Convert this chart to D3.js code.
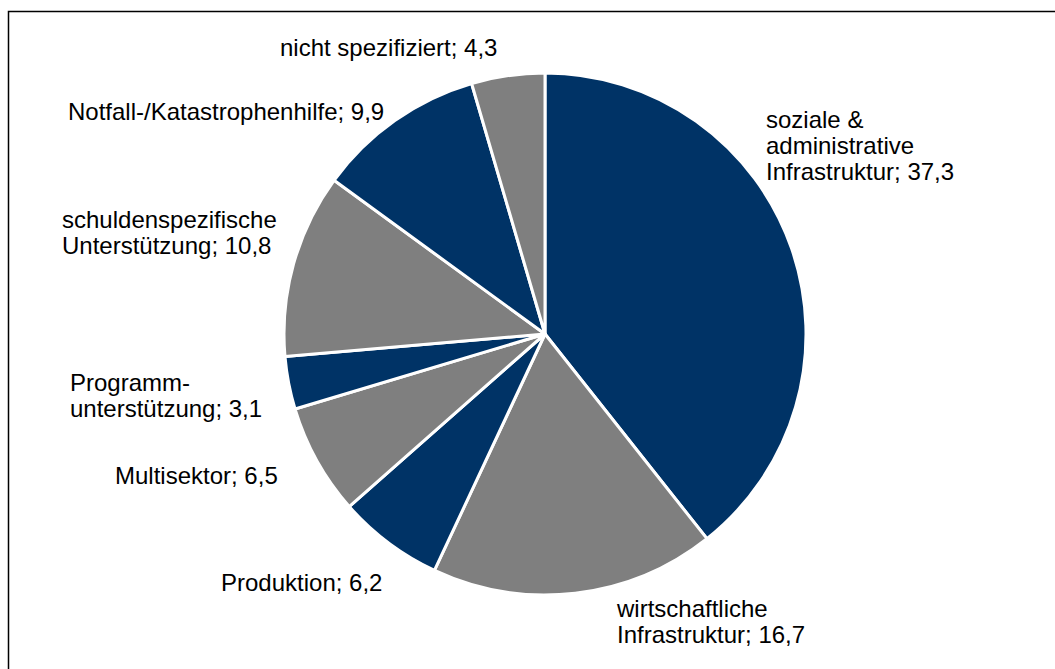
<!DOCTYPE html>
<html><head><meta charset="utf-8">
<script src="https://cdn.jsdelivr.net/npm/d3@7"></script>
<style>
html,body{margin:0;padding:0;background:#fff;}
svg{display:block;}
text{font-family:"Liberation Sans",Arial,sans-serif;fill:#000;}
</style></head>
<body>
<svg id="chart" width="1055" height="669"></svg>
<script>
// Data
const categories = [
  "soziale & administrative Infrastruktur",
  "wirtschaftliche Infrastruktur",
  "Produktion",
  "Multisektor",
  "Programmunterstützung",
  "schuldenspezifische Unterstützung",
  "Notfall-/Katastrophenhilfe",
  "nicht spezifiziert"
];
const values = [37.3, 16.7, 6.2, 6.5, 3.1, 10.8, 9.9, 4.3];
const labelLines = [
  ["soziale &", "administrative", "Infrastruktur; 37,3"],
  ["wirtschaftliche", "Infrastruktur; 16,7"],
  ["Produktion; 6,2"],
  ["Multisektor; 6,5"],
  ["Programm-", "unterstützung; 3,1"],
  ["schuldenspezifische", "Unterstützung; 10,8"],
  ["Notfall-/Katastrophenhilfe; 9,9"],
  ["nicht spezifiziert; 4,3"]
];

// Layout (label anchor positions: left x, first baseline y)
const labelPos = [
  [766, 128], [617, 617], [221, 591], [115, 484],
  [70, 391], [62, 228], [68, 120], [280, 56]
];
const colors = ["#003366", "#7f7f7f"];

const svg = d3.select("#chart");
// frame (top & left visible)
svg.append("rect").attr("x", 8.5).attr("y", 11.5).attr("width", 1100).attr("height", 700)
  .attr("fill", "none").attr("stroke", "#000").attr("stroke-width", 1.5);

const cx = 545, cy = 334, R = 261;
const pie = d3.pie().sort(null).value(d => d);
const arc = d3.arc().innerRadius(0).outerRadius(R);
const g = svg.append("g").attr("transform", `translate(${cx},${cy})`);
g.selectAll("path").data(pie(values)).join("path")
  .attr("d", arc)
  .attr("fill", (d, i) => colors[i % 2])
  .attr("stroke", "#fff").attr("stroke-width", 3).attr("stroke-linejoin", "round");

const fs = 24, lh = 26;
labelLines.forEach((lines, i) => {
  const t = svg.append("text").attr("x", labelPos[i][0]).attr("y", labelPos[i][1])
    .attr("font-size", fs);
  lines.forEach((ln, j) => {
    t.append("tspan").attr("x", labelPos[i][0]).attr("dy", j === 0 ? 0 : lh).text(ln);
  });
});
</script>
</body></html>
